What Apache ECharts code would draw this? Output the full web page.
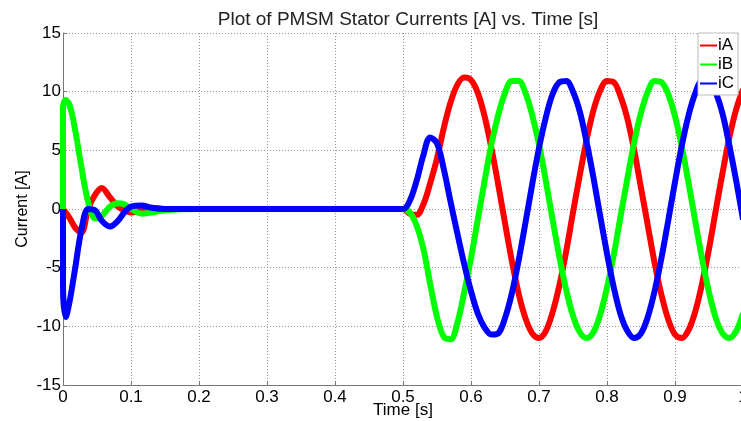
<!DOCTYPE html>
<html>
<head>
<meta charset="utf-8">
<script src="https://cdn.jsdelivr.net/npm/echarts@6/dist/echarts.min.js"></script>
<style>
html,body{margin:0;padding:0;background:#fff;}
#chart{width:741px;height:421px;}
</style>
</head>
<body>
<div id="chart"></div>
<script>
const timeS = [0, 0, 0.004, 0.01, 0.018, 0.027, 0.037, 0.047, 0.057, 0.069, 0.081, 0.09, 0.10, 0.116, 0.13, 0.15, 0.2, 0.3, 0.4, 0.5,
  0.51, 0.52, 0.53, 0.54, 0.55, 0.56, 0.57, 0.58, 0.59, 0.60,
  0.61, 0.62, 0.63, 0.64, 0.65, 0.66, 0.67, 0.68, 0.69, 0.70,
  0.71, 0.72, 0.73, 0.74, 0.75, 0.76, 0.77, 0.78, 0.79, 0.80,
  0.81, 0.82, 0.83, 0.84, 0.85, 0.86, 0.87, 0.88, 0.89, 0.90,
  0.91, 0.92, 0.93, 0.94, 0.95, 0.96, 0.97, 0.98, 0.99, 1.00];

const iA = [0, 0, -0.3, -0.8, -1.6, -2.0, 0.0, 1.2, 1.8, 1.0, 0.2, -0.1, -0.3, -0.1, 0.1, 0, 0, 0, 0, 0,
  -0.4, -0.5, 0.4, 2.2, 4.3, 6.9, 9.1, 10.6, 11.2, 11.0,
  9.9, 7.9, 5.2, 2.1, -1.2, -4.4, -7.2, -9.3, -10.6, -11.0,
  -10.4, -8.8, -6.5, -3.6, -0.3, 2.9, 5.9, 8.4, 10.1, 10.9,
  10.8, 9.6, 7.7, 5.0, 1.8, -1.4, -4.6, -7.3, -9.4, -10.7,
  -11.0, -10.3, -8.7, -6.3, -3.4, -0.1, 3.1, 6.1, 8.5, 10.2];

const iB = [0, 8.6, 9.3, 8.8, 6.7, 3.6, 0.6, -0.8, -0.6, 0.2, 0.5, 0.4, 0.0, -0.4, -0.3, -0.1, 0, 0, 0, 0,
  -0.3, -1.4, -3.4, -6.4, -9.2, -10.9, -11.1, -9.7, -7.1, -4.2,
  -0.9, 2.4, 5.5, 8.0, 9.9, 10.9, 10.9, 9.9, 8.0, 5.5,
  2.4, -0.9, -4.1, -6.9, -9.1, -10.5, -11.0, -10.5, -9.0, -6.7,
  -3.9, -0.6, 2.6, 5.7, 8.2, 10.0, 10.9, 10.8, 9.8, 7.9,
  5.3, 2.2, -1.1, -4.3, -7.1, -9.3, -10.6, -11.0, -10.4, -8.9];

const iC = [0, -6.5, -9.2, -7.8, -5.0, -1.8, 0.0, -0.1, -1.0, -1.5, -1.0, -0.3, 0.2, 0.3, 0.1, 0, 0, 0, 0, 0,
  0.7, 2.4, 4.6, 6.1, 5.6, 3.4, 0.6, -2.1, -4.7, -7.0,
  -8.9, -10.1, -10.7, -10.6, -9.3, -7.2, -4.4, -1.2, 2.1, 5.2,
  7.8, 9.8, 10.8, 10.9, 10.0, 8.3, 5.7, 2.7, -0.6, -3.8,
  -6.7, -9.0, -10.4, -11.0, -10.6, -9.2, -7.0, -4.2, -1.0, 2.3,
  5.4, 8.0, 9.9, 10.9, 10.9, 9.9, 8.1, 5.4, 2.4, -0.9];

const seriesNames = ['iA', 'iB', 'iC'];
const seriesColors = ['#ff0000', '#00ff00', '#0000ff'];
const seriesValues = [iA, iB, iC];
const xTicks = [0, 0.1, 0.2, 0.3, 0.4, 0.5, 0.6, 0.7, 0.8, 0.9, 1];
const yTicks = [-15, -10, -5, 0, 5, 10, 15];

const FONT = 'Liberation Sans, Arial, sans-serif';
const chart = echarts.init(document.getElementById('chart'), null, {renderer: 'canvas'});

const series = seriesNames.map((n, k) => ({
  name: n,
  type: 'line',
  data: timeS.map((t, i) => [t, seriesValues[k][i]]),
  showSymbol: false,
  symbol: 'none',
  smooth: 0.35,
  lineStyle: {color: seriesColors[k], width: 6},
  itemStyle: {color: seriesColors[k]},
  animation: false,
  clip: true
}));

chart.setOption({
  animation: false,
  backgroundColor: '#ffffff',
  title: {
    text: 'Plot of PMSM Stator Currents [A] vs. Time [s]',
    left: 403, top: 5, textAlign: 'center',
    textStyle: {fontFamily: FONT, fontSize: 19, fontWeight: 'normal', color: '#222'}
  },
  legend: {
    orient: 'vertical',
    left: 698, top: 33,
    data: seriesNames.map(n => ({name: n, icon: 'rect'})),
    itemWidth: 17, itemHeight: 2, itemGap: 2,
    padding: [4, 4, 3, 2],
    backgroundColor: '#ffffff',
    borderColor: '#bbbbbb', borderWidth: 1,
    textStyle: {fontFamily: FONT, fontSize: 17, color: '#000', padding: [0, 0, 0, -4]}
  },
  grid: {left: 63, right: -2, top: 33, bottom: 36, containLabel: false, outerBoundsMode: 'none'},
  xAxis: {
    type: 'value', min: xTicks[0], max: xTicks[xTicks.length - 1], interval: 0.1,
    name: 'Time [s]', nameLocation: 'middle', nameGap: 17, nameMoveOverlap: false,
    nameTextStyle: {fontFamily: FONT, fontSize: 17, color: '#000'},
    axisLine: {show: true, onZero: false, lineStyle: {color: '#777', width: 1}},
    axisTick: {show: true, inside: true, length: 4, lineStyle: {color: '#777'}},
    axisLabel: {fontFamily: FONT, fontSize: 17, color: '#000', margin: 4,
      formatter: v => String(Math.round(v * 10) / 10)},
    splitLine: {show: true, lineStyle: {color: '#999', type: [1, 2], width: 1}}
  },
  yAxis: {
    type: 'value', min: yTicks[0], max: yTicks[yTicks.length - 1], interval: 5,
    name: 'Current [A]', nameLocation: 'middle', nameGap: 32, nameMoveOverlap: false,
    nameTextStyle: {fontFamily: FONT, fontSize: 16, color: '#000'},
    axisLine: {show: true, onZero: false, lineStyle: {color: '#777', width: 1}},
    axisTick: {show: true, inside: true, length: 4, lineStyle: {color: '#777'}},
    axisLabel: {fontFamily: FONT, fontSize: 17, color: '#000', margin: 2},
    splitLine: {show: true, lineStyle: {color: '#999', type: [1, 2], width: 1}}
  },
  series: series
});
</script>
</body>
</html>
